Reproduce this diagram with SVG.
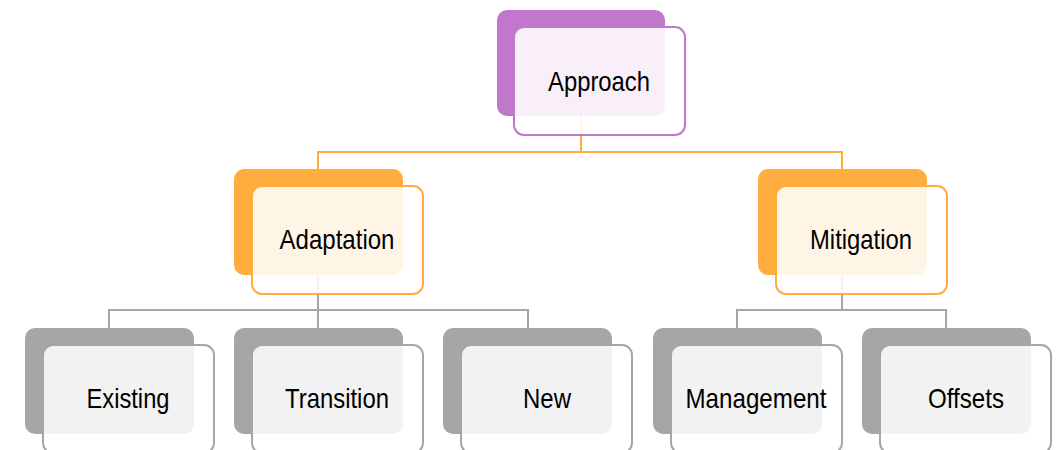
<svg xmlns="http://www.w3.org/2000/svg" width="1056" height="450" viewBox="0 0 1056 450">
<style>
.t{font-family:"Liberation Sans",Arial,sans-serif;font-size:28.5px;fill:#000;text-anchor:middle}
.bp{fill:#C178CC}.fp{fill:#fff;fill-opacity:0.88;stroke:#C178CC;stroke-width:2}
.bo{fill:#FFAD3F}.fo{fill:#fff;fill-opacity:0.88;stroke:#FFAD3F;stroke-width:2}
.bg{fill:#A6A6A6}.fg{fill:#fff;fill-opacity:0.86;stroke:#A6A6A6;stroke-width:2}
.co{fill:none;stroke:#FFAD3F;stroke-width:2}
.cg{fill:none;stroke:#A6A6A6;stroke-width:2}
</style>
<rect width="1056" height="450" fill="#fff"/>
<g id="connectors">
<path class="co" d="M581 116V152M318 169V152H842V169"/>
<path class="cg" d="M318 275V310M109 328V310H528V328M318 310V328"/>
<path class="cg" d="M842 275V310M737 328V310H946V328"/>
</g>
<g id="approach">
<rect class="bp" x="497" y="10" width="168" height="106" rx="10"/>
<rect class="fp" x="514" y="27" width="171" height="108" rx="10"/>
<text class="t" x="599" y="91" textLength="102" lengthAdjust="spacingAndGlyphs">Approach</text>
</g>
<g id="adaptation">
<rect class="bo" x="234" y="169" width="169" height="106" rx="10"/>
<rect class="fo" x="252" y="186" width="171" height="108" rx="10"/>
<text class="t" x="337" y="249" textLength="115" lengthAdjust="spacingAndGlyphs">Adaptation</text>
</g>
<g id="mitigation">
<rect class="bo" x="758" y="169" width="169" height="106" rx="10"/>
<rect class="fo" x="776" y="186" width="171" height="108" rx="10"/>
<text class="t" x="861" y="249" textLength="102" lengthAdjust="spacingAndGlyphs">Mitigation</text>
</g>
<g id="existing">
<rect class="bg" x="25" y="328" width="169" height="106" rx="10"/>
<rect class="fg" x="43" y="345" width="171" height="108" rx="10"/>
<text class="t" x="128" y="408" textLength="83" lengthAdjust="spacingAndGlyphs">Existing</text>
</g>
<g id="transition">
<rect class="bg" x="234" y="328" width="169" height="106" rx="10"/>
<rect class="fg" x="252" y="345" width="171" height="108" rx="10"/>
<text class="t" x="337" y="408" textLength="104" lengthAdjust="spacingAndGlyphs">Transition</text>
</g>
<g id="new">
<rect class="bg" x="443" y="328" width="169" height="106" rx="10"/>
<rect class="fg" x="461" y="345" width="171" height="108" rx="10"/>
<text class="t" x="547" y="408" textLength="48" lengthAdjust="spacingAndGlyphs">New</text>
</g>
<g id="management">
<rect class="bg" x="653" y="328" width="169" height="106" rx="10"/>
<rect class="fg" x="671" y="345" width="171" height="108" rx="10"/>
<text class="t" x="756" y="408" textLength="141" lengthAdjust="spacingAndGlyphs">Management</text>
</g>
<g id="offsets">
<rect class="bg" x="862" y="328" width="169" height="106" rx="10"/>
<rect class="fg" x="880" y="345" width="171" height="108" rx="10"/>
<text class="t" x="966" y="408" textLength="76" lengthAdjust="spacingAndGlyphs">Offsets</text>
</g>
</svg>
